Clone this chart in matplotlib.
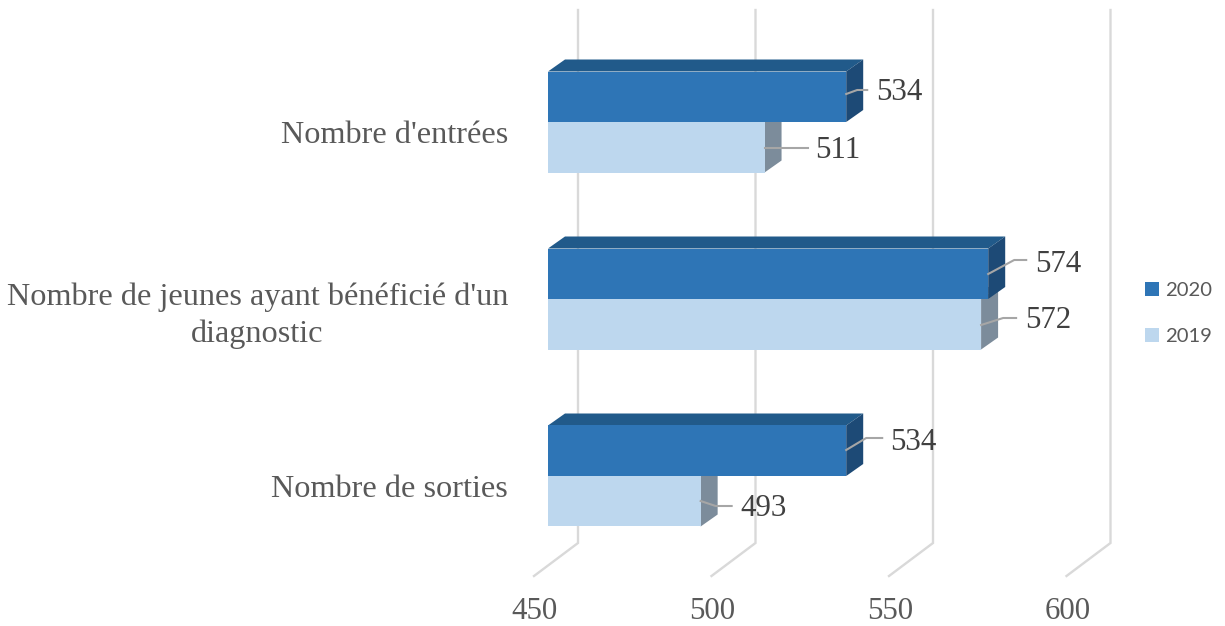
import matplotlib
matplotlib.use("Agg")
import matplotlib.pyplot as plt
from matplotlib.patches import Polygon, Patch
from matplotlib.transforms import ScaledTranslation

categories = ["Nombre d'entrées", "Nombre de jeunes ayant bénéficié d'un\ndiagnostic", "Nombre de sorties"]
values_2020 = [534, 574, 534]
values_2019 = [511, 572, 493]
x_ticks = [450, 500, 550, 600]

W, H = 1225, 626
DPI = 100
LEFT, RIGHT, BOTTOM = 548, 1225, 576
PX_X = 3.55       # px per value unit
PX_Y = 177.0      # px per category step
Y0 = 122.0        # px of first category's bar boundary
BAR_PX = 50.5
DX, DY = 17, 12   # 3D depth in px

C_TEXT = "#595959"
C_LABEL = "#404040"
C_GRID = "#d9d9d9"
C_LEAD = "#a6a6a6"
SERIF = "Liberation Serif"

fig = plt.figure(figsize=(W / DPI, H / DPI), dpi=DPI, facecolor="white")
ax = fig.add_axes([LEFT / W, 1 - BOTTOM / H, (RIGHT - LEFT) / W, BOTTOM / H])
ax.set_xlim(450, 450 + (RIGHT - LEFT) / PX_X)
ax.set_ylim((BOTTOM - Y0) / PX_Y, -Y0 / PX_Y)
ax.patch.set_alpha(0)
for s in ax.spines.values():
    s.set_visible(False)


def ux(px):
    return px / PX_X


def uy(px):
    return px / PX_Y


def py(px):
    return (px - Y0) / PX_Y


# back wall + floor gridlines
for v in x_ticks:
    ax.plot([v + ux(30), v + ux(30), v - ux(14)], [py(10), py(543), py(576)],
            color=C_GRID, lw=1.7, zorder=1, clip_on=False, solid_joinstyle="miter")


def bar3d(value, top, front, upper, side, z):
    h = uy(BAR_PX)
    ax.barh(top + h / 2, value - 450, height=h, left=450, color=front, edgecolor="none", zorder=z + 0.2)
    ax.add_patch(Polygon([(450, top), (450 + ux(DX), top - uy(DY)), (value + ux(DX), top - uy(DY)), (value, top)],
                         closed=True, fc=upper, ec="none", zorder=z))
    ax.add_patch(Polygon([(value, top), (value + ux(DX), top - uy(DY)), (value + ux(DX), top + h - uy(DY)), (value, top + h)],
                         closed=True, fc=side, ec="none", zorder=z + 0.1))


for i in range(len(categories)):
    bar3d(values_2019[i], i, "#BDD7EE", "#8b9fb0", "#7C8C9B", 2)
    bar3d(values_2020[i], i - uy(BAR_PX), "#2E75B6", "#215A8A", "#1D4A76", 3)

# leader lines (px offsets from bar end, px y) and labels (text start)
leaders_2020 = [[(0, 94), (11, 90), (21, 90)], [(0, 274), (26, 260), (38, 260)], [(0, 450), (20, 438), (36, 438)]]
leaders_2019 = [[(0, 148), (43, 148)], [(0, 325), (22, 318), (35, 318)], [(0, 501), (15, 506), (31, 506)]]
label_pos_2020 = [(30, 93), (47, 264), (44, 443)]
label_pos_2019 = [(51, 151), (44, 321), (40, 509)]

for vals, leads, poss in ((values_2020, leaders_2020, label_pos_2020), (values_2019, leaders_2019, label_pos_2019)):
    for v, lead, pos in zip(vals, leads, poss):
        ax.plot([v + ux(p[0]) for p in lead], [py(p[1]) for p in lead], color=C_LEAD, lw=1.5, zorder=5, clip_on=False)
        ax.text(v + ux(pos[0]), py(pos[1]), str(v), family=SERIF, fontsize=22.2, color=C_LABEL,
                ha="left", va="center", zorder=6)

# axes ticks
ax.set_xticks(x_ticks)
ax.set_xticklabels([str(v) for v in x_ticks], family=SERIF, fontsize=22.2, color=C_TEXT)
ax.tick_params(axis="x", length=0, pad=15)
off_x = ScaledTranslation(-13 / DPI, 0, fig.dpi_scale_trans)
for lab in ax.get_xticklabels():
    lab.set_transform(lab.get_transform() + off_x)

ax.set_yticks([i + 0.0 for i in range(len(categories))])
ax.set_yticklabels(categories, family=SERIF, fontsize=23.2, color=C_TEXT, multialignment="center", linespacing=1.33)
ax.tick_params(axis="y", length=0, pad=28.8)
off_y = ScaledTranslation(0, -10 / DPI, fig.dpi_scale_trans)
for lab in ax.get_yticklabels():
    lab.set_transform(lab.get_transform() + off_y)

# legend
handles = [Patch(fc="#2E75B6", ec="none", label="2020"), Patch(fc="#BDD7EE", ec="none", label="2019")]
fig.legend(handles=handles, loc="center left", bbox_to_anchor=(1145 / W, 1 - 313.5 / H), frameon=False,
           prop={"family": "Lato", "size": 14.6}, labelcolor=C_TEXT, handlelength=0.7, handleheight=0.7,
           handletextpad=0.3, labelspacing=1.45, borderpad=0, borderaxespad=0)

fig.savefig("out.png", dpi=DPI)
